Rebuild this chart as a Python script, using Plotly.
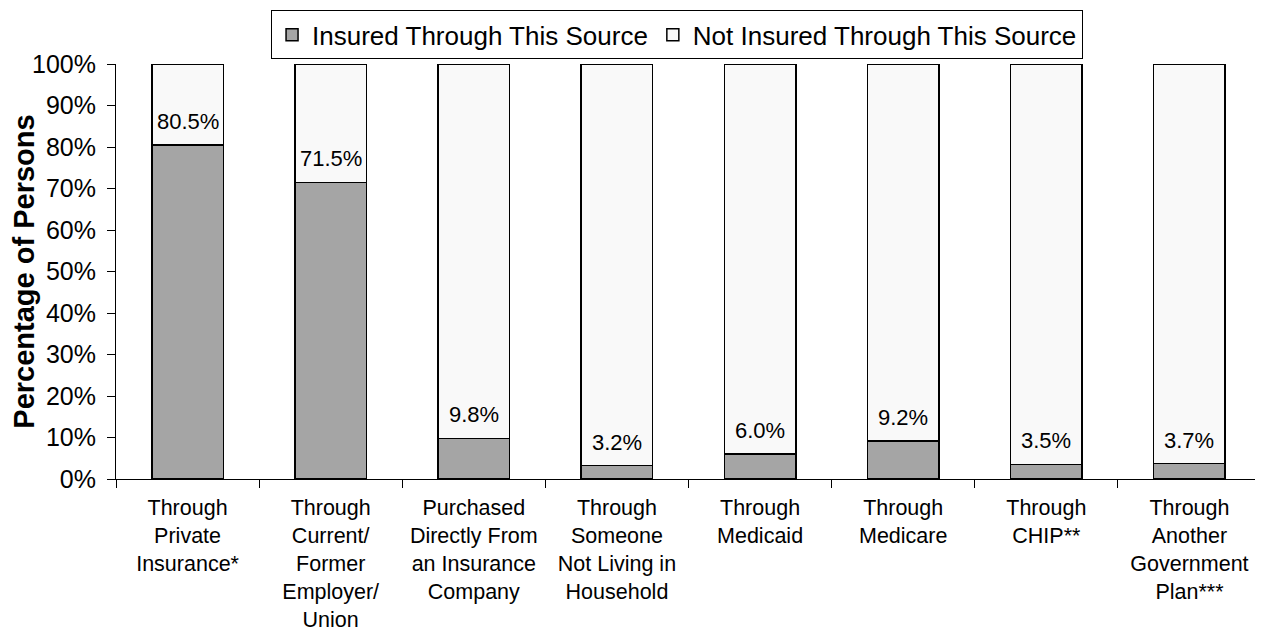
import plotly.graph_objects as go

# health insurance source, share of persons (%)
categories = [
    "Through<br>Private<br>Insurance*",
    "Through<br>Current/<br>Former<br>Employer/<br>Union",
    "Purchased<br>Directly From<br>an Insurance<br>Company",
    "Through<br>Someone<br>Not Living in<br>Household",
    "Through<br>Medicaid",
    "Through<br>Medicare",
    "Through<br>CHIP**",
    "Through<br>Another<br>Government<br>Plan***",
]
insured = [80.5, 71.5, 9.8, 3.2, 6.0, 9.2, 3.5, 3.7]
not_insured = [round(100 - v, 1) for v in insured]

FONT = "Liberation Sans, Arial, sans-serif"

fig = go.Figure()
fig.add_trace(go.Bar(
    x=categories,
    y=[v / 100 for v in insured],
    name="Insured Through This Source",
    marker=dict(color="#A5A5A5", line=dict(color="black", width=1.5)),
    width=0.5,
))
fig.add_trace(go.Bar(
    x=categories,
    y=[v / 100 for v in not_insured],
    name="Not Insured Through This Source",
    marker=dict(color="#F9F9F9", line=dict(color="black", width=1.5)),
    width=0.5,
))

for cat, v in zip(categories, insured):
    fig.add_annotation(
        x=cat, y=v / 100, text="%.1f%%" % v,
        showarrow=False, yanchor="bottom", yshift=9,
        font=dict(family=FONT, size=22, color="black"),
    )

# page body adds 8px offset, so the figure is 8px smaller than the window
fig.update_layout(
    width=1255, height=623,
    barmode="stack",
    plot_bgcolor="white", paper_bgcolor="white",
    font=dict(family=FONT, color="black"),
    margin=dict(l=108, r=2, t=54, b=152),
    showlegend=True,
    legend=dict(
        orientation="h", x=0.49, xanchor="center", y=1.129, yanchor="top",
        bordercolor="black", borderwidth=1, bgcolor="white",
        font=dict(family=FONT, size=26), traceorder="normal",
    ),
)
fig.update_xaxes(
    type="category", showline=True, linecolor="black", linewidth=1,
    ticks="outside", tickson="boundaries", ticklen=8, tickcolor="black",
    ticklabelstandoff=9, automargin=False,
    tickfont=dict(family=FONT, size=21.5), showgrid=False,
)
fig.update_yaxes(
    range=[0, 1], dtick=0.1, tickformat=".0%",
    showline=True, linecolor="black", linewidth=1,
    ticks="outside", ticklen=8, tickcolor="black", ticklabelstandoff=6,
    automargin=False,
    tickfont=dict(family=FONT, size=25), showgrid=False, zeroline=False,
    title=dict(text="<b>Percentage of Persons</b>", standoff=6,
               font=dict(family=FONT, size=29)),
)

fig.write_html("out.html")
